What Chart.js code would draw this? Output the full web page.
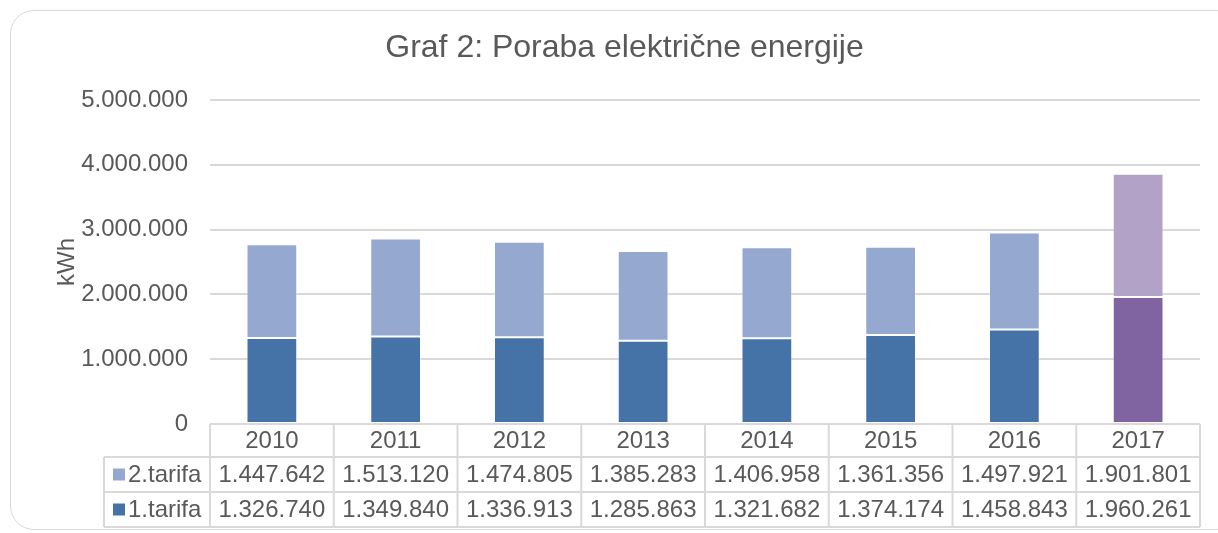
<!DOCTYPE html>
<html>
<head>
<meta charset="utf-8">
<script src="https://cdn.jsdelivr.net/npm/chart.js@4"></script>
<style>
  html, body { margin: 0; padding: 0; background: #fff; }
  #card {
    position: absolute; left: 10px; top: 10px; width: 1230px; height: 520px;
    border: 1.5px solid #d9d9d9; border-radius: 24px; box-sizing: border-box;
  }
  #wrap { position: absolute; left: 0; top: 0; width: 1218px; height: 533px; }
</style>
</head>
<body>
<div id="card"></div>
<div id="wrap"><canvas id="chart"></canvas></div>
<script>
const years = ["2010", "2011", "2012", "2013", "2014", "2015", "2016", "2017"];
const tarifa1 = [1326740, 1349840, 1336913, 1285863, 1321682, 1374174, 1458843, 1960261];
const tarifa2 = [1447642, 1513120, 1474805, 1385283, 1406958, 1361356, 1497921, 1901801];
const yTicks = [0, 1000000, 2000000, 3000000, 4000000, 5000000];

const dark = years.map((y) => (y === "2017" ? "#8064a2" : "#4673a7"));
const light = years.map((y) => (y === "2017" ? "#b3a2c7" : "#95a9d0"));
const legendCol = { t1: "#4673a7", t2: "#95a9d0" };

const textCol = "#595959";
const lineCol = "#d9d9d9";
const font = "Liberation Sans, Arial, sans-serif";

const fmt = (v) => String(v).replace(/\B(?=(\d{3})+(?!\d))/g, ".");

// data table under the plot, aligned with the x scale
const tablePlugin = {
  id: "dataTable",
  afterDraw(chart) {
    const { ctx, chartArea } = chart;
    const x = chart.scales.x;
    const n = years.length;
    const cw = (chartArea.right - chartArea.left) / n;
    const top = chartArea.bottom;
    const rowH = [33, 35, 35];
    const legendLeft = 104;
    const r1 = top + rowH[0], r2 = r1 + rowH[1], r3 = r2 + rowH[2];

    ctx.save();
    ctx.strokeStyle = lineCol;
    ctx.lineWidth = 2;
    ctx.beginPath();
    // horizontal lines
    ctx.moveTo(chartArea.left, top); ctx.lineTo(chartArea.right, top);
    [r1, r2, r3].forEach((y) => { ctx.moveTo(legendLeft, y); ctx.lineTo(chartArea.right, y); });
    // vertical lines
    ctx.moveTo(legendLeft, r1); ctx.lineTo(legendLeft, r3);
    for (let i = 0; i <= n; i++) {
      const xx = chartArea.left + i * cw;
      ctx.moveTo(xx, top); ctx.lineTo(xx, r3);
    }
    ctx.stroke();

    ctx.fillStyle = textCol;
    ctx.font = "24px " + font;
    ctx.textAlign = "center";
    ctx.textBaseline = "middle";
    years.forEach((y, i) => {
      const cx = x.getPixelForValue(i);
      ctx.fillText(y, cx, top + rowH[0] / 2 + 1);
      ctx.fillText(fmt(tarifa2[i]), cx, r1 + rowH[1] / 2 + 1);
      ctx.fillText(fmt(tarifa1[i]), cx, r2 + rowH[2] / 2 + 1);
    });

    // legend keys
    ctx.textAlign = "left";
    ctx.fillStyle = legendCol.t2;
    ctx.fillRect(113, r1 + rowH[1] / 2 - 6, 12, 12);
    ctx.fillStyle = legendCol.t1;
    ctx.fillRect(113, r2 + rowH[2] / 2 - 6, 12, 12);
    ctx.fillStyle = textCol;
    ctx.fillText("2.tarifa", 128, r1 + rowH[1] / 2 + 1);
    ctx.fillText("1.tarifa", 128, r2 + rowH[2] / 2 + 1);
    ctx.restore();
  }
};

new Chart(document.getElementById("chart"), {
  type: "bar",
  data: {
    labels: years,
    datasets: [
      { label: "1.tarifa", data: tarifa1, backgroundColor: dark, borderColor: "rgba(255,255,255,0.35)", borderWidth: 1, borderSkipped: false },
      { label: "2.tarifa", data: tarifa2, backgroundColor: light, borderColor: "rgba(255,255,255,0.35)", borderWidth: 1, borderSkipped: false }
    ]
  },
  options: {
    responsive: true,
    maintainAspectRatio: false,
    animation: false,
    layout: { padding: { left: 49, right: 18, top: 0, bottom: 0 } },
    datasets: { bar: { barPercentage: 0.41, categoryPercentage: 1 } },
    plugins: {
      legend: { display: false },
      tooltip: { enabled: false },
      title: {
        display: true,
        text: "Graf 2: Poraba električne energije",
        color: textCol,
        font: { family: font, size: 32, weight: "normal" },
        padding: { top: 29, bottom: 32.6 }
      }
    },
    scales: {
      x: {
        stacked: true,
        ticks: { display: false },
        grid: { display: false },
        border: { display: false },
        afterFit(s) { s.height = 109; }
      },
      y: {
        stacked: true,
        min: 0,
        max: 5000000,
        afterBuildTicks(s) { s.ticks = yTicks.map((v) => ({ value: v })); },
        ticks: {
          color: textCol,
          font: { family: font, size: 24 },
          padding: 22,
          callback: (v) => fmt(v)
        },
        grid: { color: lineCol, lineWidth: 2, drawTicks: false },
        border: { display: false },
        title: {
          display: true,
          text: "kWh",
          color: textCol,
          font: { family: font, size: 24 },
          padding: { top: 4, bottom: 0 }
        },
        afterFit(s) { s.width = 161; }
      }
    }
  },
  plugins: [tablePlugin]
});
</script>
</body>
</html>
